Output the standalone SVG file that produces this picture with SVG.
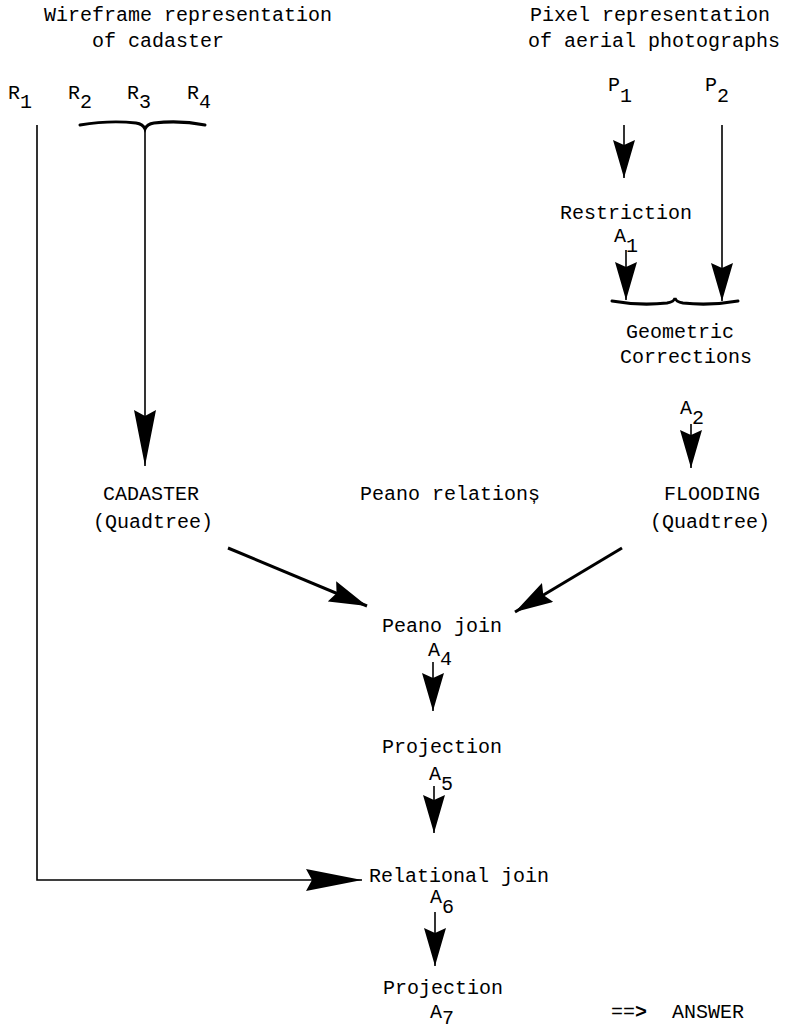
<svg xmlns="http://www.w3.org/2000/svg" width="790" height="1029" viewBox="0 0 790 1029">
<style>
text{font-family:"Liberation Mono","Courier New",monospace;font-size:20px;fill:#000}
.ln{fill:none;stroke:#000;stroke-width:1.6}
.th{stroke-width:3}
.br{fill:none;stroke:#000;stroke-width:3;stroke-linecap:round}
</style>
<defs>
<marker id="h" viewBox="0 0 38 22" refX="38" refY="11" markerWidth="38" markerHeight="22" markerUnits="userSpaceOnUse" orient="auto">
<path d="M0,0 L38,11 L0,22 L5,11 Z" fill="#000"/>
</marker>
<marker id="hl" viewBox="0 0 56 22" refX="56" refY="11" markerWidth="56" markerHeight="22" markerUnits="userSpaceOnUse" orient="auto">
<path d="M0,0 L56,11 L0,22 L6,11 Z" fill="#000"/>
</marker>
</defs>

<g id="title-wireframe">
<text x="44" y="21">Wireframe representation</text>
<text x="92" y="47">of cadaster</text>
</g>
<g id="title-pixel">
<text x="530" y="21">Pixel representation</text>
<text x="528" y="47">of aerial photographs</text>
</g>

<g id="r1"><text x="8" y="99">R<tspan dy="9">1</tspan></text></g>
<g id="r2"><text x="68" y="99">R<tspan dy="9">2</tspan></text></g>
<g id="r3"><text x="127" y="99">R<tspan dy="9">3</tspan></text></g>
<g id="r4"><text x="187" y="99">R<tspan dy="9">4</tspan></text></g>
<g id="p1"><text x="608" y="91">P<tspan dy="11">1</tspan></text></g>
<g id="p2"><text x="705" y="91">P<tspan dy="11">2</tspan></text></g>

<g id="restriction">
<text x="560" y="219">Restriction</text>
<text x="614" y="242">A<tspan dy="10">1</tspan></text>
</g>
<g id="geometric-corrections">
<text x="626" y="338">Geometric</text>
<text x="620" y="363">Corrections</text>
<text x="680" y="414">A<tspan dy="10">2</tspan></text>
</g>
<g id="cadaster">
<text x="103" y="500">CADASTER</text>
<text x="93" y="528">(Quadtree)</text>
</g>
<g id="peano-relations"><text x="360" y="500">Peano relationș</text></g>
<g id="flooding">
<text x="664" y="500">FLOODING</text>
<text x="650" y="528">(Quadtree)</text>
</g>
<g id="peano-join">
<text x="382" y="632">Peano join</text>
<text x="428" y="656">A<tspan dy="9">4</tspan></text>
</g>
<g id="projection-1">
<text x="382" y="753">Projection</text>
<text x="429" y="780">A<tspan dy="10">5</tspan></text>
</g>
<g id="relational-join">
<text x="369" y="882">Relational join</text>
<text x="430" y="903">A<tspan dy="10">6</tspan></text>
</g>
<g id="projection-2">
<text x="383" y="994">Projection</text>
<text x="430" y="1018">A<tspan dy="6">7</tspan></text>
</g>
<g id="answer">
<text x="611" y="1018">==<tspan font-weight="bold">&gt;</tspan></text>
<text x="672" y="1018">ANSWER</text>
</g>

<g id="connectors">
<path class="br" d="M80,125 Q110,120 136,123 Q143,124 145,129 Q147,124 154,123 Q180,120 205,125"/>
<path class="br" d="M612,301 Q640,306 667,303 Q674,302 675,298 Q676,302 683,303 Q710,306 738,301"/>
<path class="ln" d="M37,125 V880 H362" marker-end="url(#hl)"/>
<path class="ln" d="M145,128 V466" marker-end="url(#hl)"/>
<path class="ln" d="M624,125 V178" marker-end="url(#h)"/>
<path class="ln" d="M626,250 V300" marker-end="url(#h)"/>
<path class="ln" d="M722,125 V301" marker-end="url(#h)"/>
<path class="ln" d="M691,424 V468" marker-end="url(#h)"/>
<path class="ln th" d="M228,548 L367,606" marker-end="url(#h)"/>
<path class="ln th" d="M622,548 L515,612" marker-end="url(#h)"/>
<path class="ln" d="M433,662 V711" marker-end="url(#h)"/>
<path class="ln" d="M434,786 V833" marker-end="url(#h)"/>
<path class="ln" d="M435,912 V966" marker-end="url(#h)"/>
</g>
</svg>
